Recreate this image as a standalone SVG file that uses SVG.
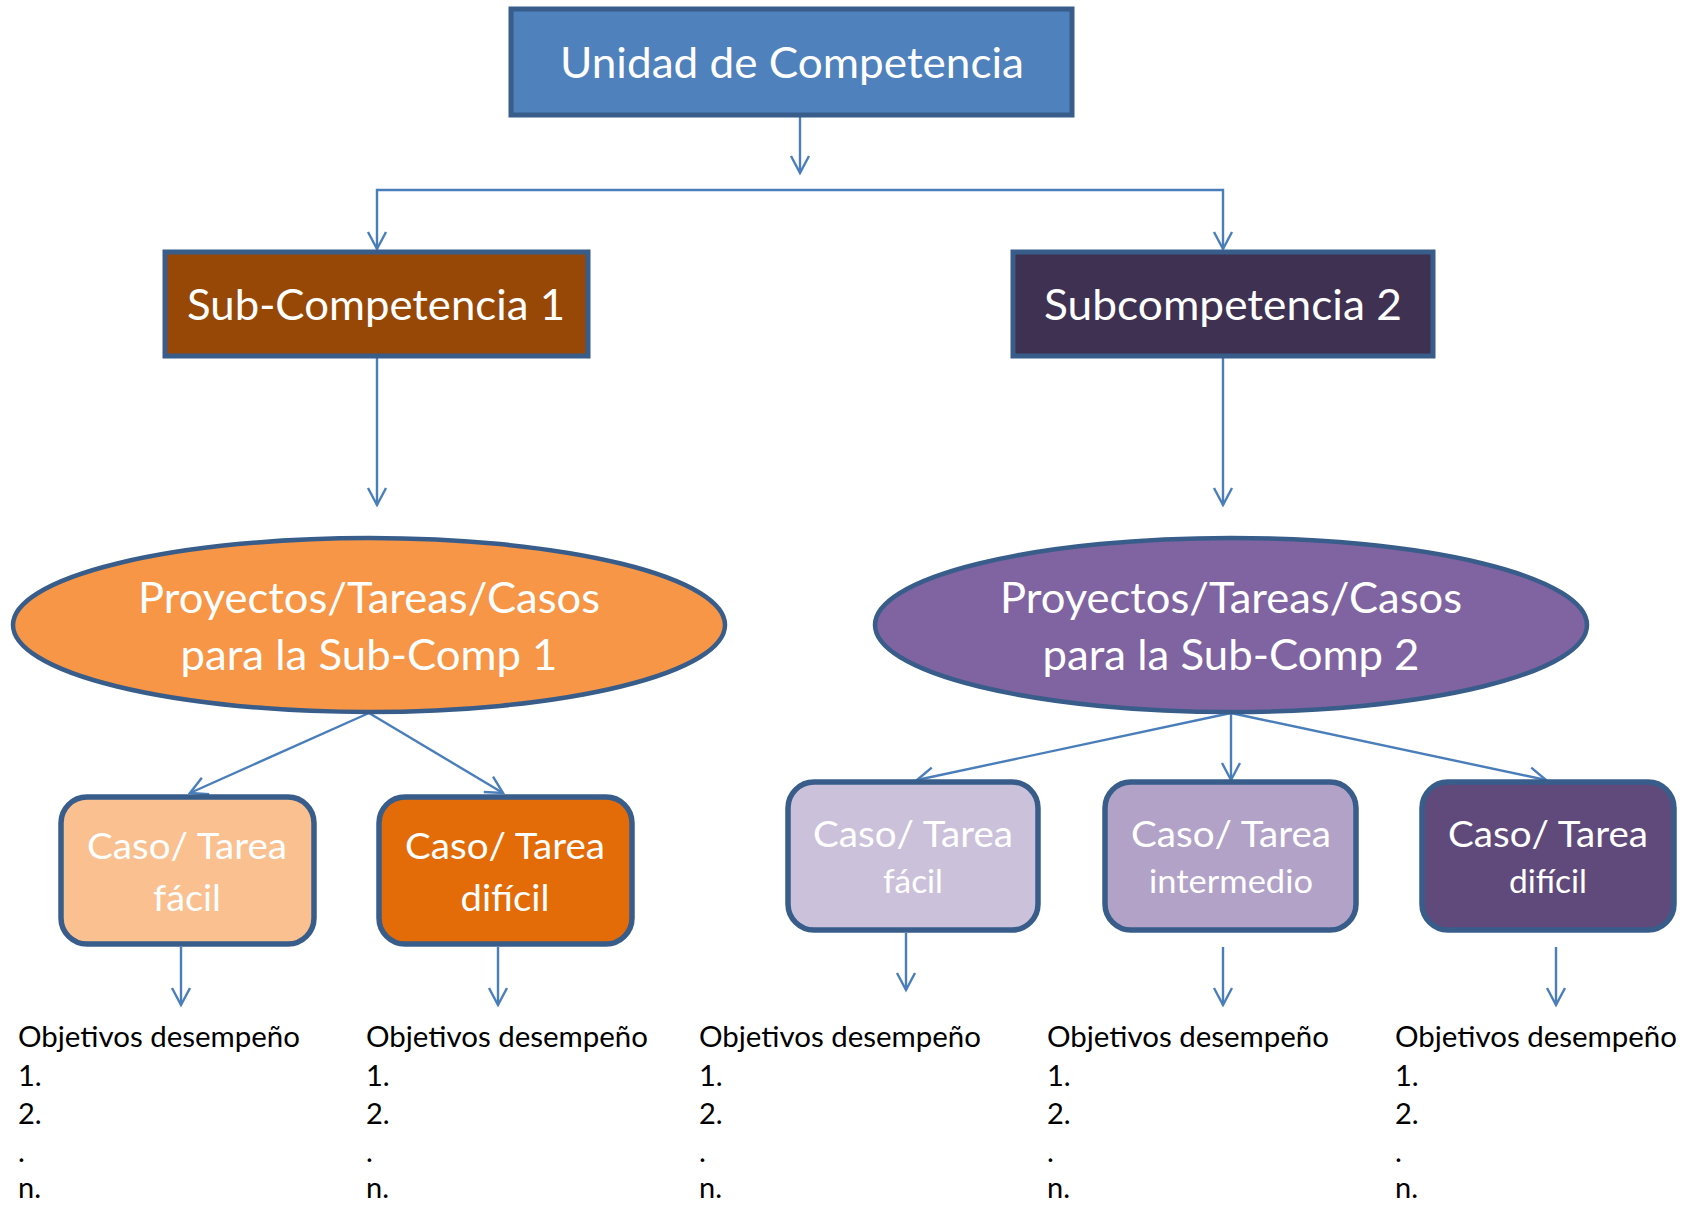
<svg xmlns="http://www.w3.org/2000/svg" width="1697" height="1205" viewBox="0 0 1697 1205">
<defs>
<style>
.box{stroke:#385d8a;stroke-width:5}
.rbox{stroke:#385d8a;stroke-width:5.5}
.t{font-family:Lato,"Open Sans",sans-serif;fill:#ffffff;text-anchor:middle}
.big{font-size:43px}
.mid{font-size:37px}
.sm{font-size:33px}
.obj{font-family:Lato,"Open Sans",sans-serif;font-size:29px;fill:#000000}
.c{fill:none;stroke:#4a7ebb;stroke-width:2.4;marker-end:url(#arr)}
</style>
<marker id="arr" markerUnits="userSpaceOnUse" markerWidth="24" markerHeight="24" viewBox="-20 -12 24 24" refX="0" refY="0" orient="auto" overflow="visible">
<path d="M-17,-9 L0,0 L-17,9" fill="none" stroke="#4a7ebb" stroke-width="2.4"/>
</marker>
</defs>
<rect width="1697" height="1205" fill="#ffffff"/>
<g id="connectors">
<path class="c" d="M800,117 L800,173"/>
<path class="c" d="M800,190 L377,190 L377,249"/>
<path class="c" d="M800,190 L1223,190 L1223,249"/>
<path class="c" d="M377,358 L377,505"/>
<path class="c" d="M1223,358 L1223,505"/>
<path class="c" d="M369,713 L190,793"/>
<path class="c" d="M369,713 L503,793"/>
<path class="c" d="M1231,713 L917,780"/>
<path class="c" d="M1231,713 L1231,780"/>
<path class="c" d="M1231,713 L1546,780"/>
<path class="c" d="M181,947 L181,1005"/>
<path class="c" d="M498,947 L498,1005"/>
<path class="c" d="M906,933 L906,990"/>
<path class="c" d="M1223,947 L1223,1005"/>
<path class="c" d="M1556,947 L1556,1005"/>
</g>
<g id="unidad">
<rect class="box" x="511" y="9" width="561" height="106" fill="#4f81bd"/>
<text class="t big" x="792" y="78" textLength="464" lengthAdjust="spacingAndGlyphs">Unidad de Competencia</text>
</g>
<g id="sub1">
<rect class="box" x="165" y="252" width="423" height="104" fill="#974806"/>
<text class="t big" x="376" y="320" textLength="378" lengthAdjust="spacingAndGlyphs">Sub-Competencia 1</text>
</g>
<g id="sub2">
<rect class="box" x="1013" y="252" width="420" height="104" fill="#3f3151"/>
<text class="t big" x="1223" y="320" textLength="358" lengthAdjust="spacingAndGlyphs">Subcompetencia 2</text>
</g>
<g id="proy1">
<ellipse cx="369" cy="625" rx="356" ry="87" fill="#f79646" stroke="#385d8a" stroke-width="4.5"/>
<text class="t big" x="369" y="613" textLength="462" lengthAdjust="spacingAndGlyphs">Proyectos/Tareas/Casos</text>
<text class="t big" x="369" y="670" textLength="377" lengthAdjust="spacingAndGlyphs">para la Sub-Comp 1</text>
</g>
<g id="proy2">
<ellipse cx="1231" cy="625" rx="356" ry="87" fill="#8064a2" stroke="#385d8a" stroke-width="4.5"/>
<text class="t big" x="1231" y="613" textLength="462" lengthAdjust="spacingAndGlyphs">Proyectos/Tareas/Casos</text>
<text class="t big" x="1231" y="670" textLength="377" lengthAdjust="spacingAndGlyphs">para la Sub-Comp 2</text>
</g>
<g id="caso1">
<rect class="rbox" x="61" y="797" width="253" height="147" rx="26" fill="#fac090"/>
<text class="t mid" x="187" y="859" textLength="200" lengthAdjust="spacingAndGlyphs">Caso/ Tarea</text>
<text class="t mid" x="187" y="911" textLength="68" lengthAdjust="spacingAndGlyphs">fácil</text>
</g>
<g id="caso2">
<rect class="rbox" x="379" y="797" width="253" height="147" rx="26" fill="#e36c09"/>
<text class="t mid" x="505" y="859" textLength="200" lengthAdjust="spacingAndGlyphs">Caso/ Tarea</text>
<text class="t mid" x="505" y="911" textLength="89" lengthAdjust="spacingAndGlyphs">difícil</text>
</g>
<g id="caso3">
<rect class="rbox" x="788" y="782" width="250" height="148" rx="26" fill="#ccc1da"/>
<text class="t mid" x="913" y="847" textLength="200" lengthAdjust="spacingAndGlyphs">Caso/ Tarea</text>
<text class="t sm" x="913" y="893" textLength="60" lengthAdjust="spacingAndGlyphs">fácil</text>
</g>
<g id="caso4">
<rect class="rbox" x="1105" y="782" width="251" height="148" rx="26" fill="#b2a2c7"/>
<text class="t mid" x="1231" y="847" textLength="200" lengthAdjust="spacingAndGlyphs">Caso/ Tarea</text>
<text class="t sm" x="1231" y="893" textLength="164" lengthAdjust="spacingAndGlyphs">intermedio</text>
</g>
<g id="caso5">
<rect class="rbox" x="1422" y="782" width="252" height="148" rx="26" fill="#604a7b"/>
<text class="t mid" x="1548" y="847" textLength="200" lengthAdjust="spacingAndGlyphs">Caso/ Tarea</text>
<text class="t sm" x="1548" y="893" textLength="78" lengthAdjust="spacingAndGlyphs">difícil</text>
</g>
<g id="obj1" class="obj">
<text x="18" y="1047" textLength="282" lengthAdjust="spacingAndGlyphs">Objetivos desempeño</text>
<text x="18" y="1086">1.</text><text x="18" y="1124">2.</text><text x="18" y="1162">.</text><text x="18" y="1198">n.</text>
</g>
<g id="obj2" class="obj">
<text x="366" y="1047" textLength="282" lengthAdjust="spacingAndGlyphs">Objetivos desempeño</text>
<text x="366" y="1086">1.</text><text x="366" y="1124">2.</text><text x="366" y="1162">.</text><text x="366" y="1198">n.</text>
</g>
<g id="obj3" class="obj">
<text x="699" y="1047" textLength="282" lengthAdjust="spacingAndGlyphs">Objetivos desempeño</text>
<text x="699" y="1086">1.</text><text x="699" y="1124">2.</text><text x="699" y="1162">.</text><text x="699" y="1198">n.</text>
</g>
<g id="obj4" class="obj">
<text x="1047" y="1047" textLength="282" lengthAdjust="spacingAndGlyphs">Objetivos desempeño</text>
<text x="1047" y="1086">1.</text><text x="1047" y="1124">2.</text><text x="1047" y="1162">.</text><text x="1047" y="1198">n.</text>
</g>
<g id="obj5" class="obj">
<text x="1395" y="1047" textLength="282" lengthAdjust="spacingAndGlyphs">Objetivos desempeño</text>
<text x="1395" y="1086">1.</text><text x="1395" y="1124">2.</text><text x="1395" y="1162">.</text><text x="1395" y="1198">n.</text>
</g>
</svg>
